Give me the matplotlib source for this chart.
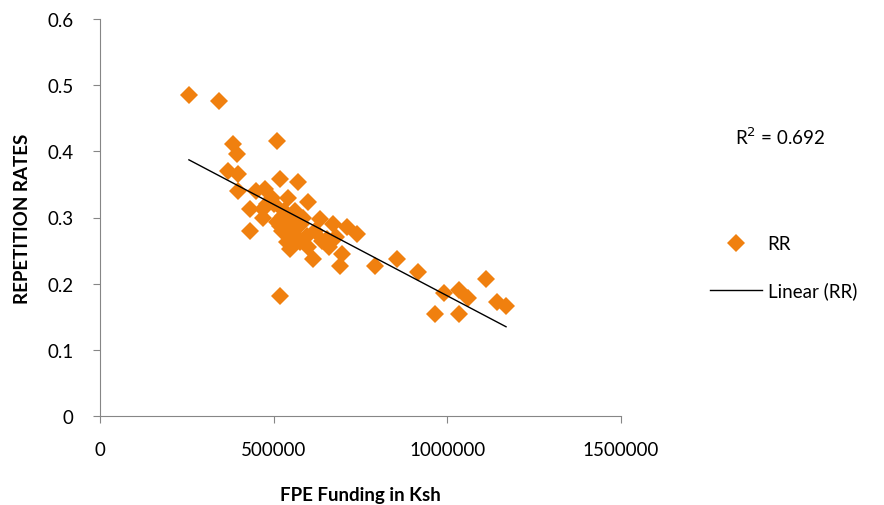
import matplotlib
matplotlib.use("Agg")
import matplotlib.pyplot as plt
import numpy as np

funding = [256000, 343000, 383000, 510000, 394000, 369000, 397000, 397000, 432000, 432000,
           518000, 570000, 475000, 495000, 541000, 599000, 469000, 527000, 634000, 671000,
           711000, 740000, 518000, 556000, 596000, 654000, 547000, 613000, 691000, 792000,
           855000, 518000, 576000, 539000, 510000, 916000, 991000, 965000, 1034000, 1060000,
           1034000, 1112000, 1143000, 1169000, 697000, 560000, 580000, 620000, 600000, 640000,
           660000, 680000, 500000, 450000, 530000, 560000, 470000, 480000, 545000, 585000,
           565000, 525000]
rr = [0.485, 0.476, 0.411, 0.416, 0.396, 0.370, 0.366, 0.340, 0.313, 0.280,
      0.358, 0.354, 0.343, 0.329, 0.329, 0.323, 0.313, 0.302, 0.298, 0.290,
      0.286, 0.275, 0.287, 0.278, 0.272, 0.267, 0.252, 0.237, 0.227, 0.227,
      0.237, 0.181, 0.263, 0.263, 0.293, 0.218, 0.186, 0.154, 0.190, 0.178,
      0.154, 0.207, 0.172, 0.166, 0.245, 0.285, 0.290, 0.280, 0.255, 0.265,
      0.255, 0.270, 0.320, 0.340, 0.310, 0.310, 0.300, 0.320, 0.295, 0.300,
      0.270, 0.280]
r2_text = "R$^2$ = 0.692"
x_ticks = [0, 500000, 1000000, 1500000]
y_ticks = [0, 0.1, 0.2, 0.3, 0.4, 0.5, 0.6]

plt.rcParams['font.family'] = ['Lato', 'DejaVu Sans']

fig = plt.figure(figsize=(8.84, 5.06), dpi=100)
ax = fig.add_axes([100/884, 89/506, 521/884, 397/506])

orange = '#F0800F'
ax.plot(funding, rr, linestyle='none', marker='D', markersize=9.5, color=orange,
        markeredgewidth=0, label='RR')

x = np.array(funding)
y = np.array(rr)
slope, intercept = np.polyfit(x, y, 1)
xl = np.array([x.min(), x.max()])
ax.plot(xl, slope * xl + intercept, color='black', lw=1.0, label='Linear (RR)')

ax.set_xlim(0, 1500000)
ax.set_ylim(0, 0.6)
ax.set_xticks(x_ticks)
ax.set_xticklabels([str(v) for v in x_ticks])
ax.set_yticks(y_ticks)
ax.set_yticklabels(['0'] + [f"{v:.1f}" for v in y_ticks[1:]])
for s in ['top', 'right']:
    ax.spines[s].set_visible(False)
for s in ['left', 'bottom']:
    ax.spines[s].set_color('#868686')
ax.tick_params(direction='out', length=5, color='#868686', labelsize=13.5)
ax.tick_params(axis='x', pad=13)
ax.tick_params(axis='y', pad=14)

ax.set_xlabel('FPE Funding in Ksh', fontsize=13.5, fontweight='bold', labelpad=20)
ax.set_ylabel('REPETITION RATES', fontsize=13.5, fontweight='bold', labelpad=12)

leg = fig.legend(loc='upper left', bbox_to_anchor=(702/884, 1 - 229/506), frameon=False,
                 fontsize=13.5, handlelength=2.8, labelspacing=1.55, handletextpad=0.3,
                 borderaxespad=0, borderpad=0.4)
fig.text(735/884, 1 - 137/506, r2_text, fontsize=13.5, va='center', ha='left')

fig.savefig('out.png', dpi=100)
